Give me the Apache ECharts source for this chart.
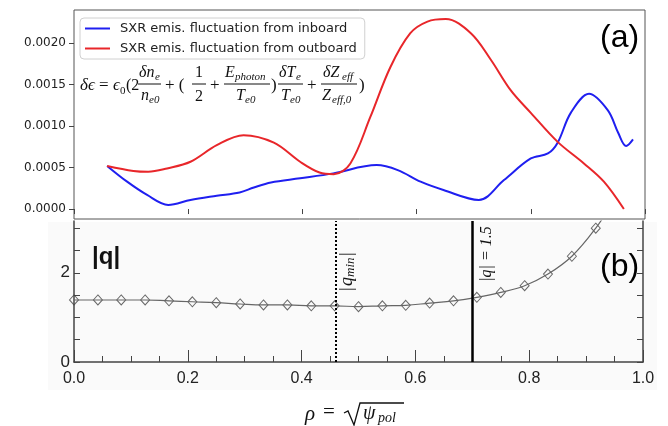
<!DOCTYPE html>
<html>
<head>
<meta charset="utf-8">
<script src="https://cdn.jsdelivr.net/npm/echarts@6/dist/echarts.min.js"></script>
<style>
html, body { margin: 0; padding: 0; background: #fff; }
#chart1 { width: 668px; height: 426px; }
</style>
</head>
<body>
<div id="chart1"></div>
<script>
// (a) SXR emission fluctuation
var blueRho = [0.058, 0.093, 0.128, 0.165, 0.204, 0.25, 0.29, 0.315, 0.345, 0.396, 0.454, 0.53, 0.567, 0.607, 0.647, 0.709, 0.753, 0.80, 0.83, 0.847, 0.87, 0.902, 0.935, 0.953, 0.967, 0.979];
var blueVal = [0.00052, 0.00033, 0.00017, 0.00005, 0.00011, 0.00016, 0.0002, 0.00026, 0.00032, 0.00037, 0.00043, 0.00053, 0.00047, 0.00033, 0.00023, 0.00011, 0.00035, 0.00061, 0.00067, 0.0008, 0.00116, 0.00139, 0.00119, 0.00092, 0.00076, 0.00084];
var redRho = [0.058, 0.104, 0.13, 0.163, 0.204, 0.25, 0.297, 0.35, 0.396, 0.43, 0.455, 0.484, 0.519, 0.554, 0.589, 0.619, 0.651, 0.695, 0.73, 0.765, 0.80, 0.847, 0.893, 0.928, 0.963];
var redVal = [0.00052, 0.00046, 0.00045, 0.00049, 0.00057, 0.00077, 0.00089, 0.0008, 0.00057, 0.00044, 0.00042, 0.00055, 0.00111, 0.00171, 0.00212, 0.00226, 0.00229, 0.00212, 0.0018, 0.00143, 0.00116, 0.00081, 0.00055, 0.00033, 0.0];

// (b) |q| profile
var qRho = [0.0, 0.042, 0.083, 0.125, 0.167, 0.208, 0.25, 0.292, 0.333, 0.375, 0.417, 0.458, 0.5, 0.542, 0.583, 0.625, 0.667, 0.708, 0.75, 0.792, 0.833, 0.875, 0.917];
var qVal = [1.39, 1.39, 1.39, 1.39, 1.37, 1.35, 1.33, 1.30, 1.28, 1.28, 1.26, 1.26, 1.24, 1.26, 1.27, 1.32, 1.37, 1.45, 1.56, 1.71, 1.97, 2.37, 3.0];
var qTailRho = [0.945];
var qTailVal = [3.55];
var markRho = [0.458, 0.70];

var emisTicks = [0, 0.0005, 0.001, 0.0015, 0.002];
var qTicks = [0, 0.5, 1, 1.5, 2, 2.5, 3];
var qLabels = [0, 2];

var SERIF = '"Liberation Serif", "DejaVu Serif", serif';
var SANS = '"Liberation Sans", Arial, sans-serif';

function pairs(xs, ys) {
    return xs.map(function (x, i) { return [x, ys[i]]; });
}

function tx(x, y, s, size, italic, align) {
    return {
        type: 'text', x: x, y: y, silent: true,
        style: {
            text: s, fill: '#111', fontSize: size, fontFamily: SERIF,
            fontStyle: italic ? 'italic' : 'normal',
            align: align || 'left', verticalAlign: 'middle'
        }
    };
}

function ln(x1, y1, x2, y2, w) {
    return {
        type: 'line', silent: true,
        shape: { x1: x1, y1: y1, x2: x2, y2: y2 },
        style: { stroke: '#111', lineWidth: w || 1 }
    };
}

// formula in panel (a)
var formula = [
    tx(80, 86, 'δϵ', 17, true),
    tx(99, 86, '=', 17, false),
    tx(113, 86, 'ϵ', 17, true),
    tx(120, 91, '0', 11, false),
    tx(126, 86, '(2', 16, false),
    tx(139, 73, 'δn', 16, true), tx(155, 77, 'e', 11, true), ln(138, 84, 161, 84),
    tx(141, 96, 'n', 16, true), tx(149, 100, 'e0', 11, true),
    tx(165, 86, '+ (', 17, false),
    tx(199, 73, '1', 16, false, 'center'), ln(192, 84, 206, 84), tx(199, 97, '2', 16, false, 'center'),
    tx(210, 86, '+', 17, false),
    tx(225, 73, 'E', 16, true), tx(235, 77, 'photon', 11, true), ln(224, 84, 270, 84),
    tx(236, 96, 'T', 16, true), tx(245, 100, 'e0', 11, true),
    tx(271, 86, ')', 17, false),
    tx(279, 73, 'δT', 16, true), tx(296, 77, 'e', 11, true), ln(278, 84, 303, 84),
    tx(281, 96, 'T', 16, true), tx(290, 100, 'e0', 11, true),
    tx(307, 86, '+', 17, false),
    tx(323, 73, 'δZ', 16, true), tx(342, 77, 'eff', 11, true), ln(321, 84, 357, 84),
    tx(322, 96, 'Z', 16, true), tx(332, 100, 'eff,0', 11, true),
    tx(359, 86, ')', 17, false)
];

// x axis title  rho = sqrt(psi_pol)
var xTitle = [
    tx(305, 414, 'ρ', 21, true),
    tx(323, 412, '=', 21, false),
    {
        type: 'polyline', silent: true,
        shape: { points: [[344, 413], [348, 411], [354, 425], [360, 403], [404, 403]] },
        style: { stroke: '#111', lineWidth: 1.3, fill: null }
    },
    tx(363, 414, 'ψ', 20, true),
    tx(378, 418, 'pol', 14, true)
];

var labels = [
    { type: 'text', x: 600, y: 38, silent: true, style: { text: '(a)', fill: '#000', fontSize: 32, fontFamily: SANS, verticalAlign: 'middle' } },
    { type: 'text', x: 600, y: 267, silent: true, style: { text: '(b)', fill: '#000', fontSize: 32, fontFamily: SANS, verticalAlign: 'middle' } },
    { type: 'text', x: 92, y: 257, silent: true, style: { text: '|q|', fill: '#111', fontSize: 24, fontWeight: 'bold', fontFamily: SANS, verticalAlign: 'middle' } },
    { type: 'group', x: 487, y: 254, rotation: Math.PI / 2, children: [tx(0, 0, '|q| = 1.5', 16, true, 'center')] },
    {
        type: 'group', x: 347, y: 272, rotation: Math.PI / 2, children: [
            tx(-19, 0, '|', 18, false), tx(-14, 0, 'q', 18, true), tx(-5, 4, 'min', 13, true), tx(16, 0, '|', 18, false)
        ]
    }
];

var bg = [{ type: 'rect', z: -10, silent: true, shape: { x: 48, y: 222, width: 609, height: 168 }, style: { fill: '#fafafa' } }];

var chart = echarts.init(document.getElementById('chart1'));

var option = {
    animation: false,
    backgroundColor: '#fff',
    grid: [
        { left: 74, top: 10, width: 571, height: 209, show: true, borderColor: '#555', borderWidth: 1, backgroundColor: 'transparent' },
        { left: 74, top: 221, width: 569, height: 141 }
    ],
    legend: {
        data: ['SXR emis. fluctuation from inboard', 'SXR emis. fluctuation from outboard'],
        left: 80, top: 18, orient: 'vertical',
        icon: 'rect', itemWidth: 25, itemHeight: 2, itemGap: 7,
        borderColor: '#d0d0d0', borderWidth: 1, borderRadius: 4,
        padding: [4, 8, 4, 5], backgroundColor: '#fff',
        textStyle: { fontSize: 13, fontFamily: '"DejaVu Sans"', color: '#222', padding: [0, 0, 0, 5] }
    },
    xAxis: [
        {
            gridIndex: 0, type: 'value', min: 0, max: 1, interval: 0.2,
            axisLine: { show: false },
            axisTick: { show: true, length: 5, lineStyle: { color: '#444' } },
            axisLabel: { show: false },
            splitLine: { show: false }
        },
        {
            gridIndex: 1, type: 'value', min: 0, max: 1, interval: 0.2,
            axisLine: { show: true, onZero: false, lineStyle: { color: '#444', width: 1.5 } },
            axisTick: { show: true, inside: true, length: 12, lineStyle: { color: '#444' } },
            minorTick: { show: true, splitNumber: 4, length: 6, lineStyle: { color: '#444' } },
            axisLabel: { fontSize: 16, fontFamily: SANS, color: '#222', margin: 9, formatter: function (v) { return v.toFixed(1); } },
            splitLine: { show: false }
        }
    ],
    yAxis: [
        {
            gridIndex: 0, type: 'value', min: -0.00012, max: 0.0024,
            axisLine: { show: false },
            axisTick: { show: true, length: 5, customValues: emisTicks, lineStyle: { color: '#444' } },
            axisLabel: { customValues: emisTicks, fontSize: 12, fontFamily: '"DejaVu Sans"', color: '#222', margin: 8, formatter: function (v) { return v.toFixed(4); } },
            splitLine: { show: false }
        },
        {
            gridIndex: 1, type: 'value', min: 0, max: 3.16,
            axisLine: { show: true, onZero: false, lineStyle: { color: '#444', width: 1.5 } },
            axisTick: { show: true, inside: true, length: 6, customValues: qTicks, lineStyle: { color: '#444' } },
            axisLabel: { customValues: qLabels, fontSize: 17, fontFamily: SANS, color: '#222', margin: 4 },
            splitLine: { show: false }
        },
        {
            gridIndex: 1, type: 'value', min: 0, max: 3.16, position: 'right',
            axisLine: { show: true, onZero: false, lineStyle: { color: '#444', width: 1.5 } },
            axisTick: { show: true, inside: true, length: 6, customValues: qTicks, lineStyle: { color: '#444' } },
            axisLabel: { show: false },
            splitLine: { show: false }
        }
    ],
    series: [
        {
            name: 'SXR emis. fluctuation from inboard', type: 'line',
            xAxisIndex: 0, yAxisIndex: 0,
            data: pairs(blueRho, blueVal),
            smooth: 0.35, showSymbol: false,
            lineStyle: { color: '#1f1ff0', width: 2 }, itemStyle: { color: '#1f1ff0' }
        },
        {
            name: 'SXR emis. fluctuation from outboard', type: 'line',
            xAxisIndex: 0, yAxisIndex: 0,
            data: pairs(redRho, redVal),
            smooth: 0.35, showSymbol: false,
            lineStyle: { color: '#e8262a', width: 2 }, itemStyle: { color: '#e8262a' }
        },
        {
            type: 'line', xAxisIndex: 1, yAxisIndex: 1,
            data: pairs(qRho.concat(qTailRho), qVal.concat(qTailVal)),
            smooth: 0.4, showSymbol: false, clip: true,
            lineStyle: { color: '#666', width: 1.2 },
            markLine: {
                silent: true, symbol: ['none', 'none'], label: { show: false },
                data: [
                    { xAxis: markRho[0], lineStyle: { color: '#000', type: [2, 2], width: 2 } },
                    { xAxis: markRho[1], lineStyle: { color: '#000', type: 'solid', width: 2.5 } }
                ]
            }
        },
        {
            type: 'scatter', xAxisIndex: 1, yAxisIndex: 1,
            data: pairs(qRho, qVal),
            symbol: 'diamond', symbolSize: [9, 10],
            itemStyle: { color: 'rgba(255,255,255,0)', borderColor: '#444', borderWidth: 1 }
        }
    ],
    graphic: bg.concat(formula, xTitle, labels)
};

chart.setOption(option, true);
</script>
</body>
</html>
